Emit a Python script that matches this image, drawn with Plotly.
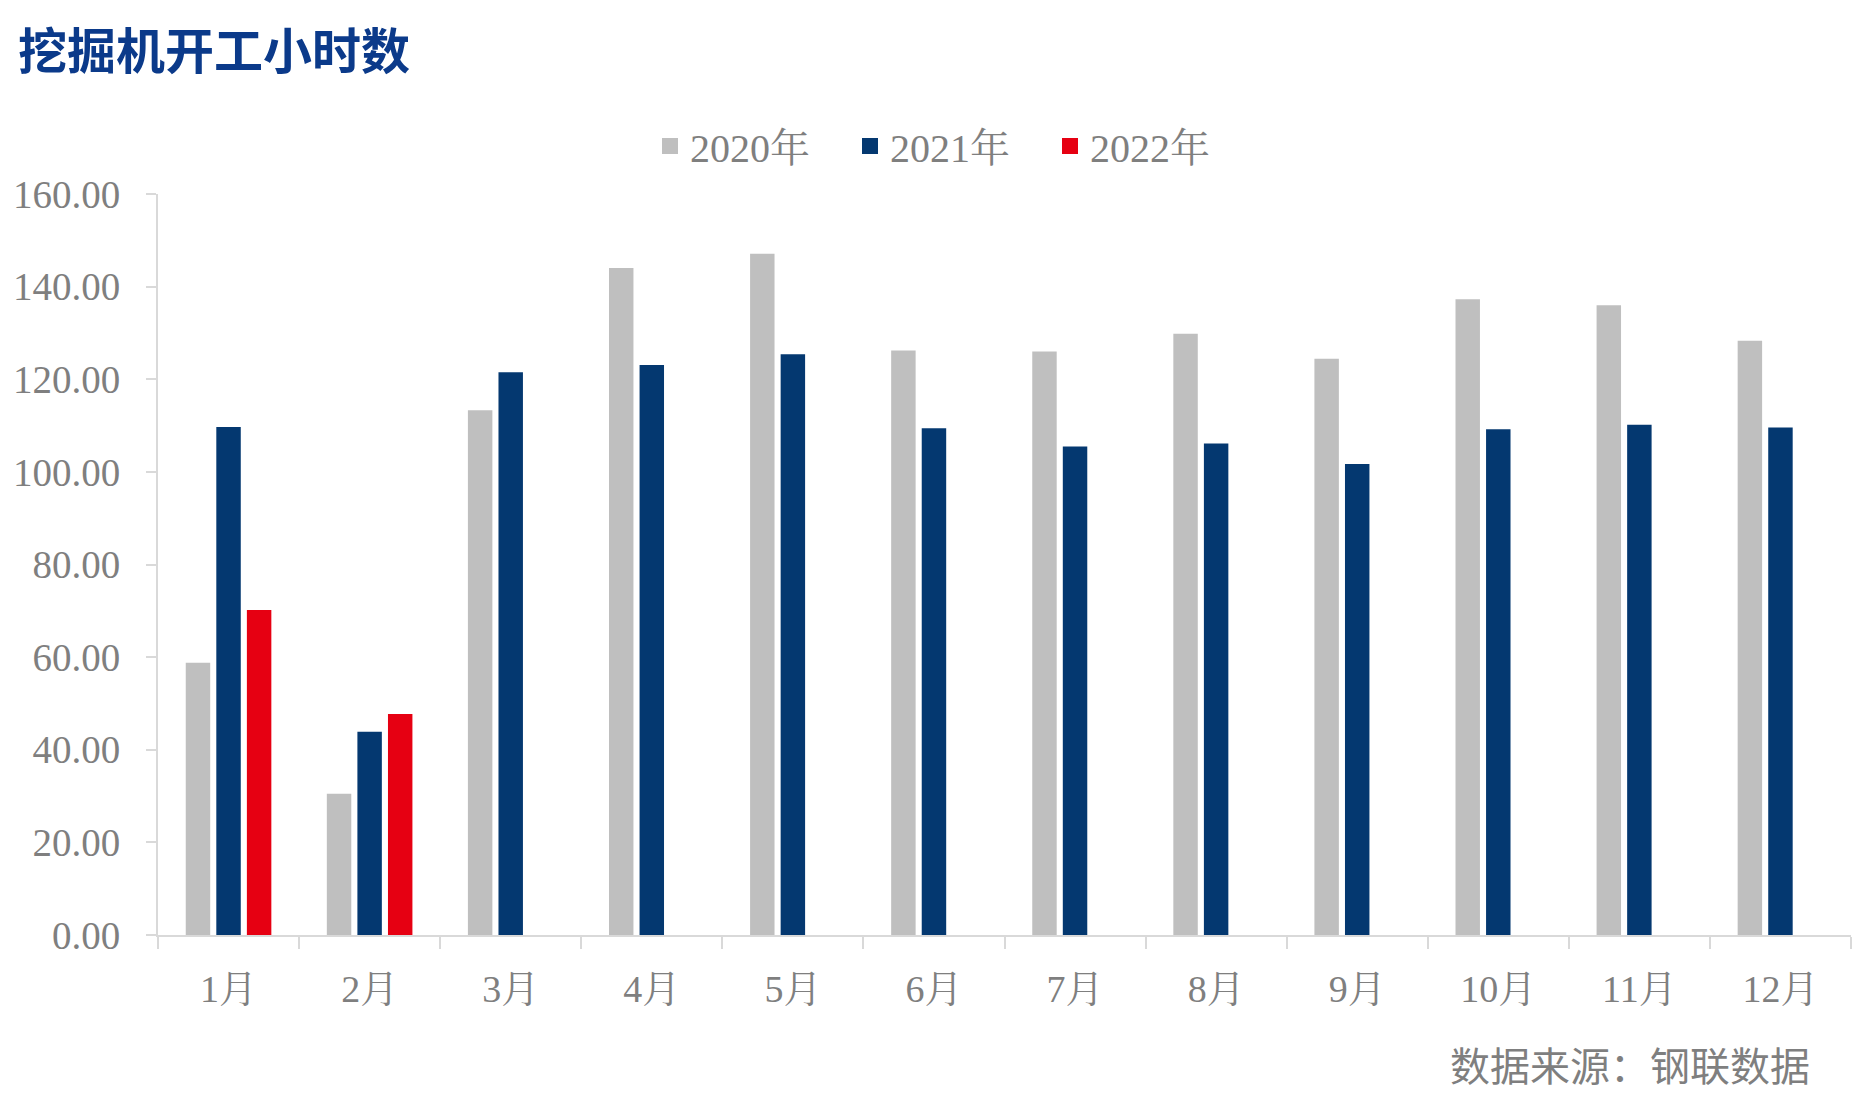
import plotly.graph_objects as go

months = ["1月", "2月", "3月", "4月", "5月", "6月", "7月", "8月", "9月", "10月", "11月", "12月"]
y2020 = [58.8, 30.5, 113.3, 144.0, 147.1, 126.2, 126.0, 129.8, 124.4, 137.3, 136.0, 128.3]
y2021 = [109.7, 43.9, 121.5, 123.1, 125.4, 109.4, 105.5, 106.1, 101.7, 109.2, 110.2, 109.6]
y2022 = [70.2, 47.7, None, None, None, None, None, None, None, None, None, None]

series_names = ["2020年", "2021年", "2022年"]
colors = ["#BFBFBF", "#043870", "#E60012"]

serif = "Liberation Serif, Times New Roman, Noto Serif CJK SC, Noto Sans CJK SC, serif"
gray_txt = "#7F7F7F"

# page body has an 8px default margin; compensate
W, H = 1867, 1110
L, R, T, B = 150, 24, 186, 183
PW, PH = W - L - R, H - T - B

fig = go.Figure()
for name, vals, c in zip(series_names, [y2020, y2021, y2022], colors):
    fig.add_trace(go.Bar(x=months, y=vals, name=name, marker=dict(color=c, line=dict(width=0)),
                         showlegend=False))
# legend entries with larger square swatches
for name, c in zip(series_names, colors):
    fig.add_trace(go.Scatter(x=[None], y=[None], mode="markers", name=name,
                             marker=dict(symbol="square", size=21, color=c), showlegend=True))

fig.update_layout(
    width=W, height=H,
    paper_bgcolor="white", plot_bgcolor="white",
    margin=dict(l=L, r=R, t=T, b=B, autoexpand=False),
    barmode="group", bargap=0.35, bargroupgap=0.2,
    legend=dict(orientation="h", xref="container", x=942 / W, xanchor="center",
                yref="container", y=1 - 138 / H, yanchor="middle",
                font=dict(family=serif, size=40, color=gray_txt),
                entrywidth=155, itemwidth=30, traceorder="normal"),
    xaxis=dict(type="category", showline=True, linecolor="#D9D9D9", linewidth=2,
               ticks="outside", tickson="boundaries", ticklen=12, tickcolor="#D9D9D9", tickwidth=2,
               tickfont=dict(family=serif, size=38, color=gray_txt), ticklabelstandoff=19,
               showgrid=False),
    yaxis=dict(range=[0, 160], dtick=20, tickformat=".2f", showline=True, linecolor="#D9D9D9", linewidth=2,
               ticks="outside", ticklen=10, tickcolor="#D9D9D9", tickwidth=2,
               tickfont=dict(family=serif, size=39, color=gray_txt), ticklabelstandoff=18,
               showgrid=False, zeroline=False),
    annotations=[
        dict(text="<b>挖掘机开工小时数</b>", xref="paper", yref="paper",
             x=(8 - L) / PW, y=1 + (T - 40) / PH, showarrow=False, xanchor="left", yanchor="middle",
             font=dict(family="Noto Sans CJK SC", size=49, color="#0B3A8A")),
        dict(text="数据来源：钢联数据", xref="paper", yref="paper",
             x=(1804 - L) / PW, y=-(1056 - (T + PH)) / PH, showarrow=False, xanchor="right", yanchor="middle",
             font=dict(family="Noto Sans CJK SC", size=40, color=gray_txt)),
    ],
)

fig.write_html("out.html")
